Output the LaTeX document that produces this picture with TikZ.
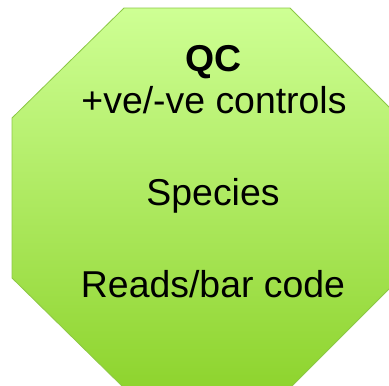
\documentclass[tikz,border=0pt]{standalone}
\usepackage{fontspec}
\setmainfont{Liberation Sans}
\definecolor{octtop}{RGB}{206,255,148}
\definecolor{octbot}{RGB}{142,212,46}
\definecolor{octline}{RGB}{140,200,70}
\tikzset{
  label text/.style={font=\fontsize{37.4}{40}\selectfont, anchor=base, inner sep=0pt},
}

\begin{document}
\begin{tikzpicture}[x=1pt, y=-1pt]
		\useasboundingbox (0,0) rectangle (389,386);
		
		% octagon
		\path[draw=octline, line width=0.8pt, top color=octtop, bottom color=octbot]
			(124,8) -- (290,8) -- (400,118) -- (400,278) -- (290,388)
			-- (124,388) -- (12,278) -- (12,118) -- cycle;
		
		\node[label text, font=\fontsize{37.4}{40}\selectfont\bfseries] (qc) at (213.5,71) {QC};
		\node[label text] (controls) at (214,113) {+ve/-ve controls};
		\node[label text] (species) at (213,205) {Species};
		\node[label text] (reads) at (213,297) {Reads/bar code};
	\end{tikzpicture}
\end{document}
